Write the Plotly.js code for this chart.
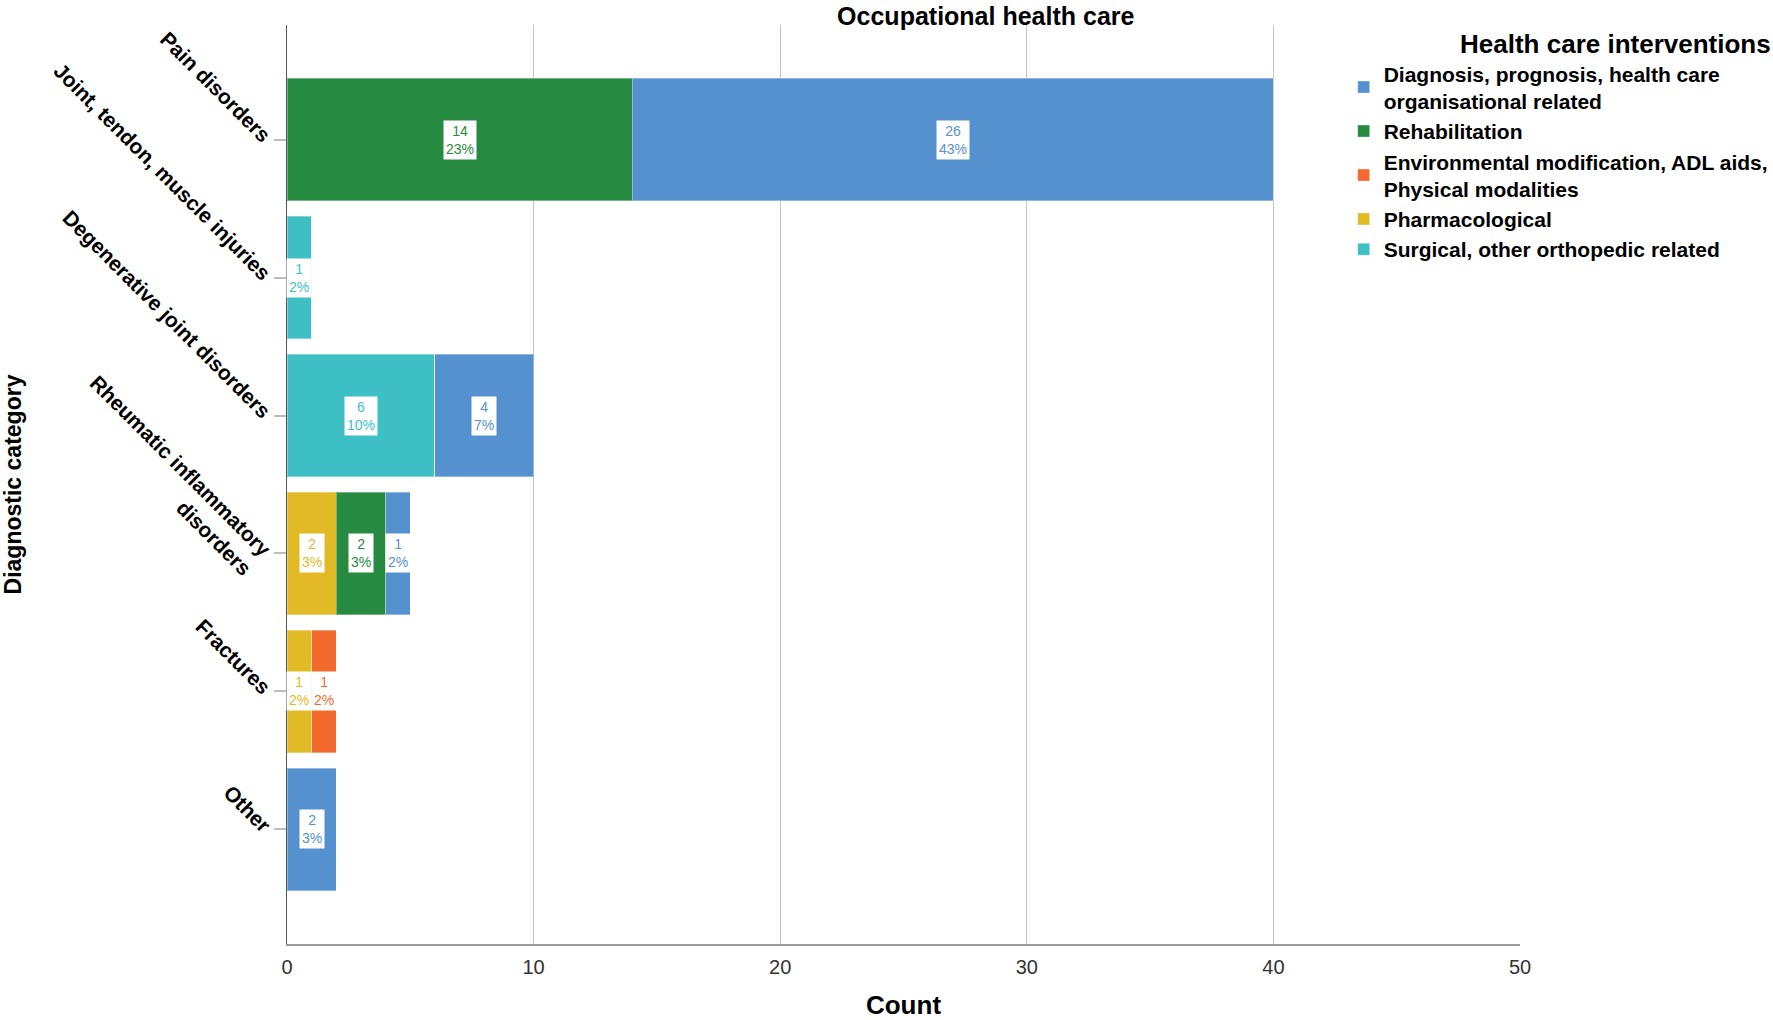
<!DOCTYPE html>
<html>
<head>
<meta charset="utf-8">
<script src="https://cdn.plot.ly/plotly-3.0.1.min.js"></script>
<style>
  html, body { margin: 0; padding: 0; background: #fff; }
  #chart { width: 1773px; height: 1020px; }
</style>
</head>
<body>
<div id="chart"></div>
<script>
// categories, top to bottom
const categories = [
    "Pain disorders",
    "Joint, tendon, muscle injuries",
    "Degenerative joint disorders",
    "Rheumatic inflammatory disorders",
    "Fractures",
    "Other"
];
const category_labels = [
    "Pain disorders",
    "Joint, tendon, muscle injuries",
    "Degenerative joint disorders",
    "Rheumatic inflammatory<br>disorders",
    "Fractures",
    "Other"
];

// series, in stacking order (left to right)
const series_names = [
    "Surgical, other orthopedic related",
    "Pharmacological",
    "Environmental modification, ADL aids,<br>Physical modalities",
    "Rehabilitation",
    "Diagnosis, prognosis, health care<br>organisational related"
];
const series_colors = ["#3dbfc4", "#e1ba26", "#f26a2e", "#268a41", "#5591cf"];

const surgical        = [0, 1, 6, 0, 0, 0];
const pharmacological = [0, 0, 0, 2, 1, 0];
const environmental   = [0, 0, 0, 0, 1, 0];
const rehabilitation  = [14, 0, 0, 2, 0, 0];
const diagnosis       = [26, 0, 4, 1, 0, 2];

const x_ticks = [0, 10, 20, 30, 40, 50];

const series_values = [surgical, pharmacological, environmental, rehabilitation, diagnosis];

///////////////////////////////////////////////////////////////////////////////
const font_family = '"Liberation Sans", Arial, sans-serif';

let total = 0;
series_values.forEach(vals => vals.forEach(v => total += v));

let plot_traces = [];
let annotations = [];
let running = categories.map(() => 0);

series_values.forEach((vals, s) => {
    plot_traces.push({
        type: 'bar',
        orientation: 'h',
        name: series_names[s],
        x: vals,
        y: categories,
        marker: {color: series_colors[s], line: {color: 'rgba(255,255,255,0.35)', width: 1}},
        hoverinfo: 'x+name'
    });

    // white label boxes in the middle of each segment
    vals.forEach((v, c) => {
        if(v > 0) {
            annotations.push({
                x: running[c] + v / 2, y: categories[c],
                xref: 'x', yref: 'y',
                text: v + '<br>' + Math.round(v / total * 100) + '%',
                showarrow: false,
                bgcolor: '#ffffff',
                borderpad: 2,
                font: {family: font_family, size: 14, color: series_colors[s]}
            });
        }
        running[c] += v;
    });
});

let plot_layout = {
    width: 1773,
    height: 1020,
    paper_bgcolor: '#ffffff',
    plot_bgcolor: '#ffffff',
    font: {family: font_family, color: '#000'},
    barmode: 'stack',
    bargap: 0.11,
    margin: {l: 287, r: 253, t: 25, b: 76, autoexpand: false},
    title: {
        text: '<b>Occupational health care</b>',
        font: {size: 25, color: '#000'},
        x: 0.556, xanchor: 'center',
        y: 0.993, yanchor: 'top'
    },
    xaxis: {
        range: [0, 50],
        tickvals: x_ticks,
        ticktext: x_ticks.map(String),
        showgrid: true,
        gridcolor: '#c4c4c4',
        gridwidth: 1,
        zeroline: false,
        showline: true,
        linecolor: '#9a9a9a',
        linewidth: 2,
        ticks: '',
        ticklabelstandoff: 4,
        tickfont: {size: 20, color: '#333'},
        title: {text: '<b>Count</b>', font: {size: 26, color: '#000'}, standoff: 23},
        fixedrange: true
    },
    yaxis: {
        type: 'category',
        categoryorder: 'array',
        categoryarray: categories,
        tickvals: categories,
        ticktext: category_labels,
        autorange: false,
        range: [5.83, -0.83],
        tickangle: 45,
        ticks: 'outside',
        ticklen: 12,
        tickcolor: '#bdbdbd',
        tickwidth: 2,
        showgrid: false,
        zeroline: false,
        showline: true,
        linecolor: '#555',
        linewidth: 1.5,
        tickfont: {size: 21, color: '#000', weight: 'bold'},
        title: {text: '<b>Diagnostic category</b>', font: {size: 23, color: '#000'}, standoff: 26},
        fixedrange: true
    },
    showlegend: true,
    legend: {
        x: 0.857, xanchor: 'left',
        y: 1.006, yanchor: 'top',
        traceorder: 'reversed',
        bgcolor: 'rgba(0,0,0,0)',
        font: {size: 21, color: '#000', weight: 'bold'},
        title: {text: '<b>Health care interventions</b>', font: {size: 26, color: '#000'}, side: 'top right'},
        itemwidth: 30,
        tracegroupgap: 0
    },
    annotations: annotations
};

let plot_config = {displayModeBar: false, staticPlot: true};

Plotly.newPlot(document.getElementById('chart'), plot_traces, plot_layout, plot_config);
</script>
</body>
</html>
